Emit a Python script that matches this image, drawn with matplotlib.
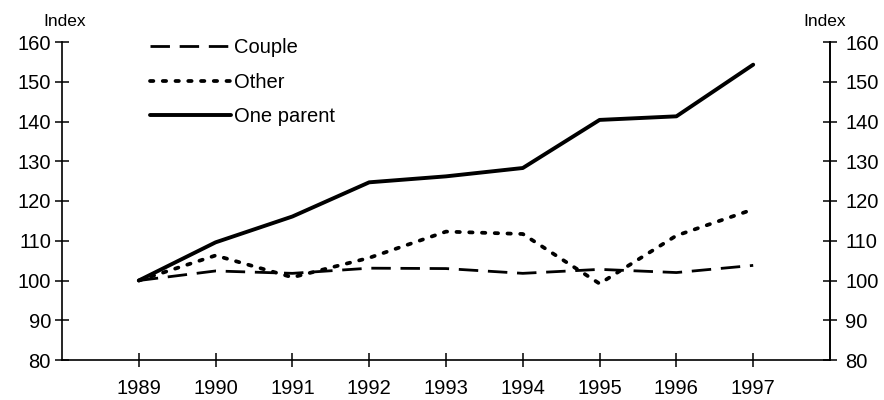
import matplotlib
matplotlib.use("Agg")
import matplotlib.pyplot as plt

years = [1989, 1990, 1991, 1992, 1993, 1994, 1995, 1996, 1997]
couple = [100, 102.4, 101.8, 103.1, 103.0, 101.8, 102.8, 102.0, 103.8]
other = [100, 106.3, 100.8, 105.7, 112.3, 111.7, 99.2, 111.3, 117.9]
one_parent = [100, 109.6, 116.1, 124.7, 126.2, 128.3, 140.4, 141.3, 154.3]
yticks = [80, 90, 100, 110, 120, 130, 140, 150, 160]

plt.rcParams['font.family'] = ['Liberation Sans', 'DejaVu Sans']

fig = plt.figure(figsize=(8.84, 4.0), dpi=100)
ax = fig.add_axes([62/884, 1-360/400, (830-62)/884, (360-42)/400])

ax.plot(years, couple, color='black', lw=2.0, dashes=(7, 3.5), label='Couple')
ax.plot(years, other, color='black', lw=2.7, dashes=(0.9, 2.5),
        dash_capstyle='round', label='Other')
ax.plot(years, one_parent, color='black', lw=2.8, solid_capstyle='round',
        solid_joinstyle='round', label='One parent')

ax.set_xlim(1988, 1998)
ax.set_ylim(80, 160)
ax.set_xticks(years)
ax.set_xticklabels([str(y) for y in years])
ax.set_yticks(yticks)
ax.spines['top'].set_visible(False)
for s in ['left', 'right', 'bottom']:
    ax.spines[s].set_linewidth(1.2)

ax.tick_params(axis='x', direction='inout', length=10, width=1.1,
               labelsize=14.5, pad=9)
ax.tick_params(axis='y', direction='inout', length=10, width=1.1,
               labelsize=14.5, pad=3)

ax2 = ax.twinx()
ax2.set_ylim(80, 160)
ax2.set_yticks(yticks)
ax2.spines['top'].set_visible(False)
ax2.spines['left'].set_visible(False)
ax2.spines['bottom'].set_visible(False)
ax2.spines['right'].set_linewidth(1.2)
ax2.tick_params(axis='y', direction='inout', length=10, width=1.1,
                labelsize=14.5, pad=6)

fig.text(65/884, 1-21/400, 'Index', fontsize=12.5, ha='center', va='center')
fig.text(825/884, 1-22/400, 'Index', fontsize=12.5, ha='center', va='center')

leg = ax.legend(loc='upper left', bbox_to_anchor=(150/884, 1-38/400),
                bbox_transform=fig.transFigure, frameon=False, fontsize=14.5,
                handlelength=4.0, handletextpad=0.15, labelspacing=0.78,
                borderpad=0, borderaxespad=0)

fig.savefig('out.png', dpi=100)
